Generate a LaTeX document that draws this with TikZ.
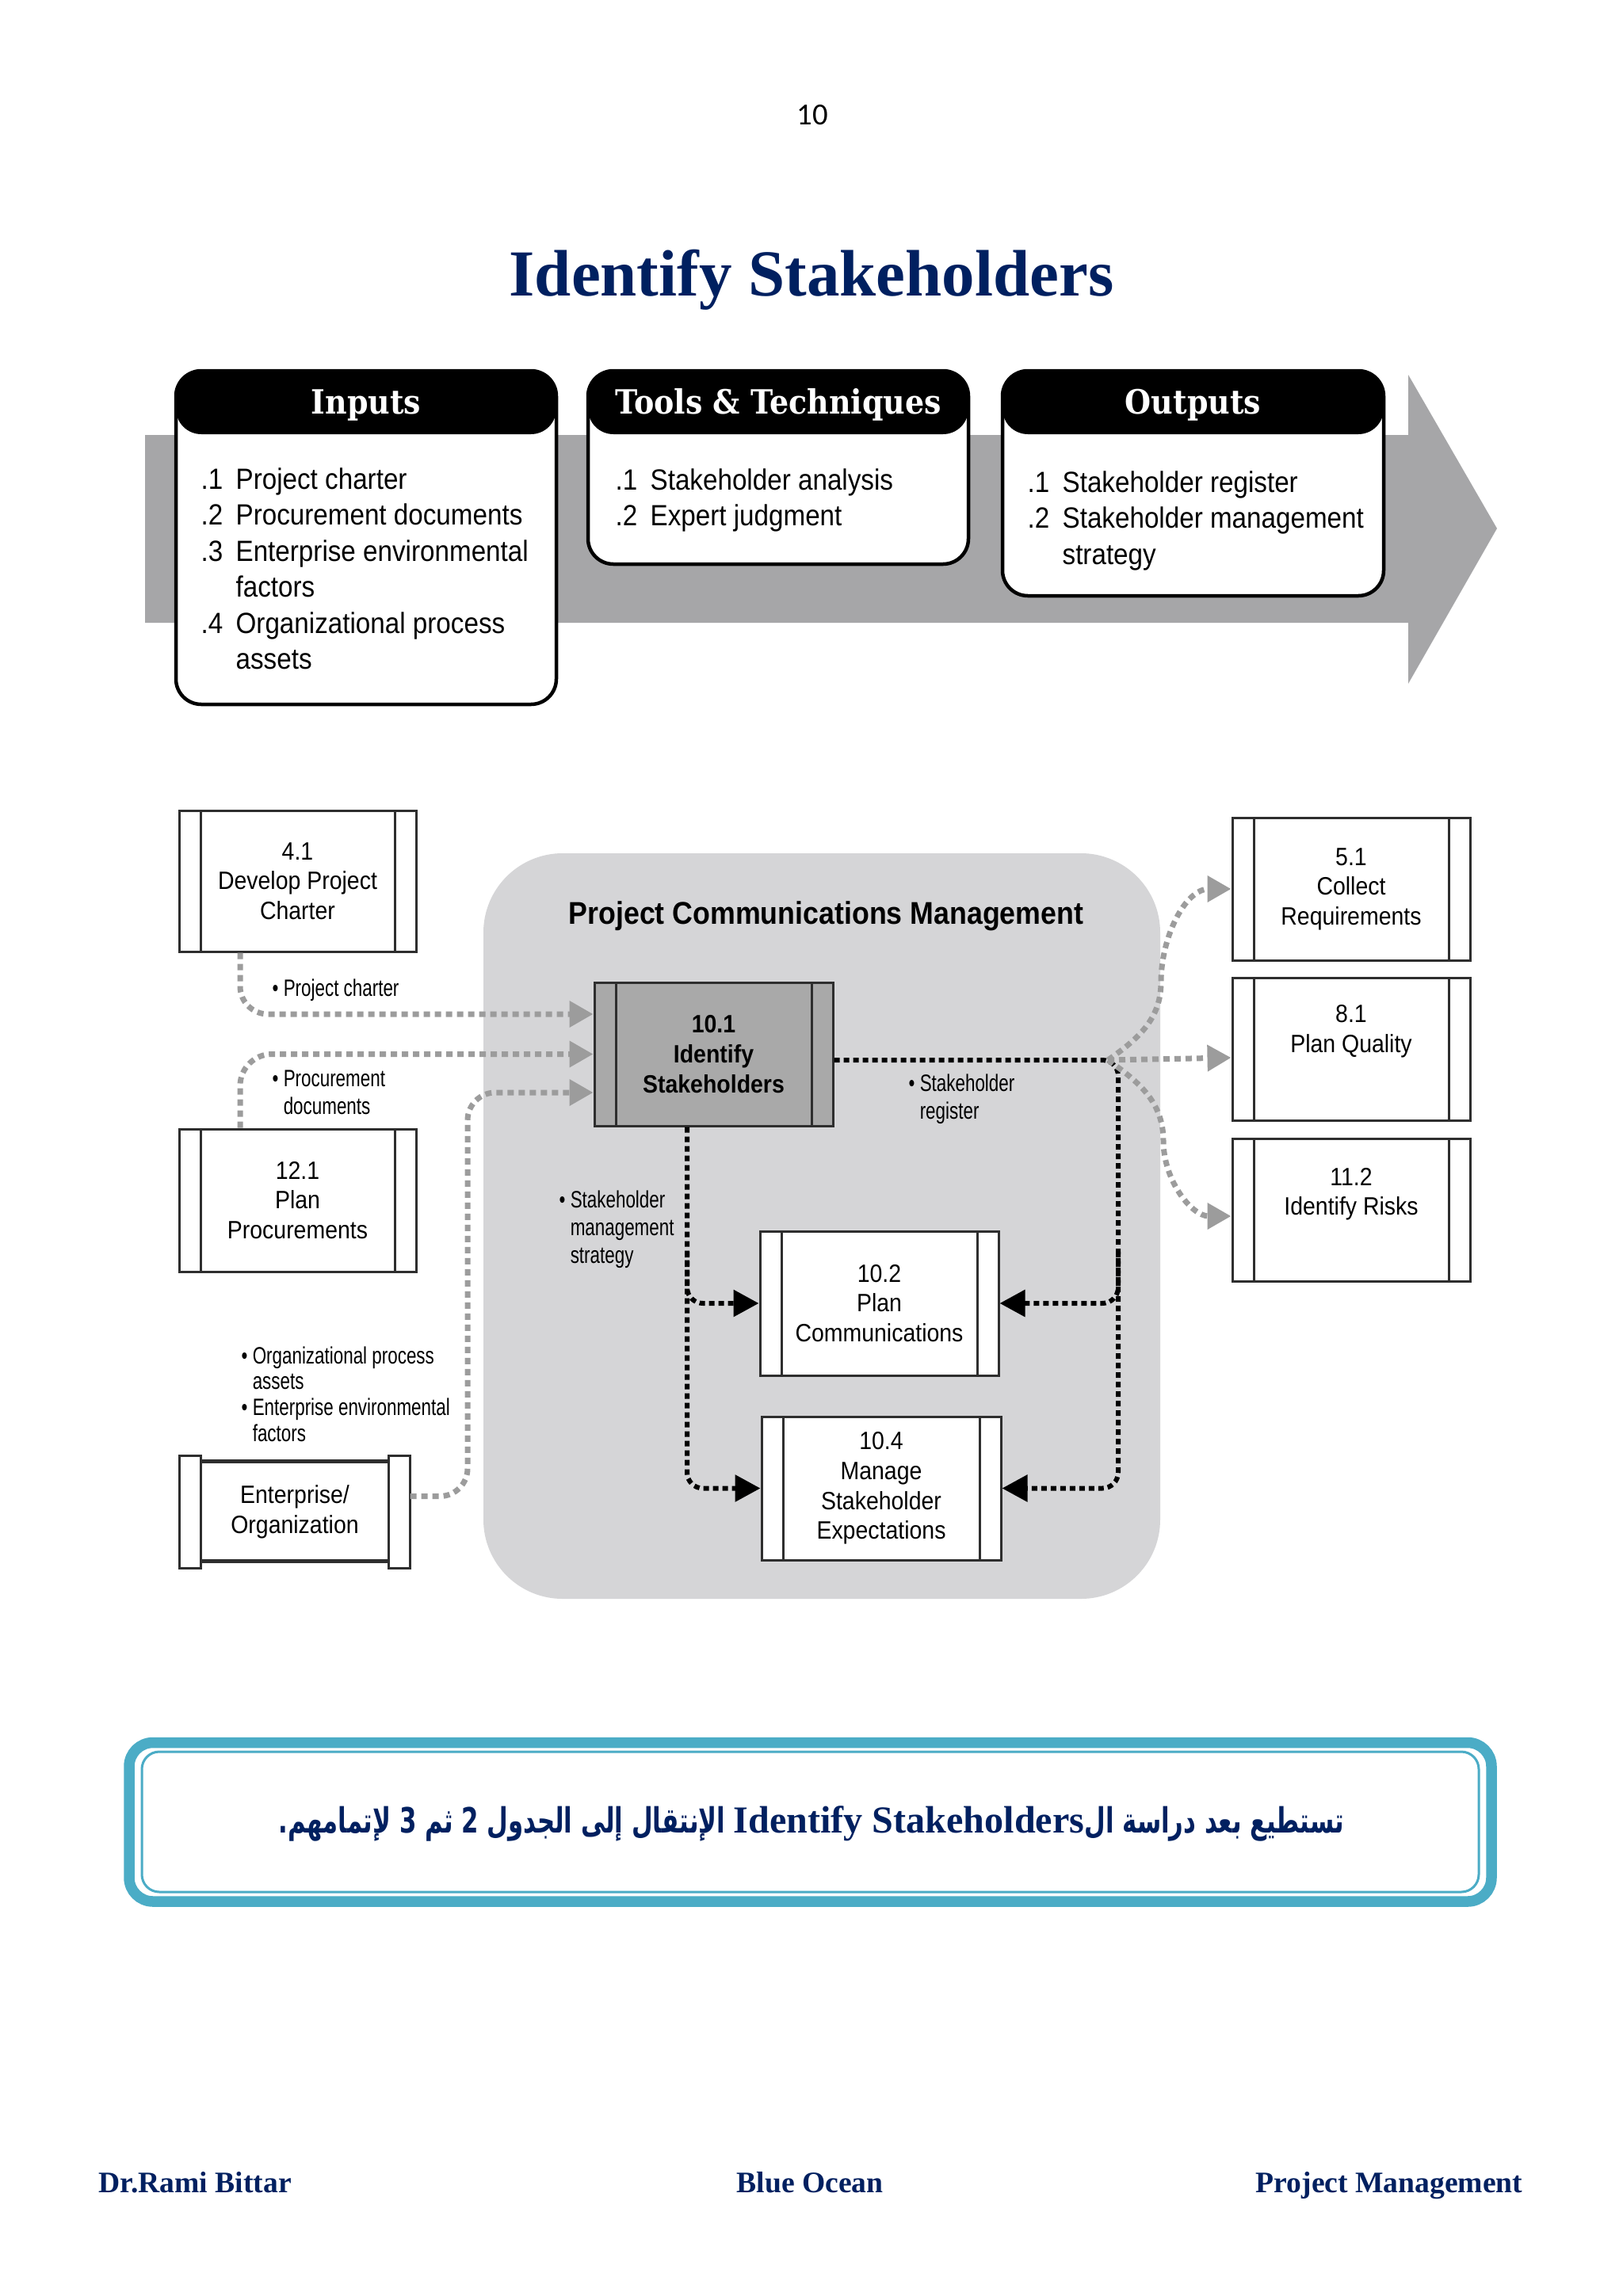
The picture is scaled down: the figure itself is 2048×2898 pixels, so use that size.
\documentclass[tikz,border=0pt]{standalone}
\usepackage{fontspec}
\usetikzlibrary{arrows.meta,calc}
\setmainfont{Liberation Serif}
\newfontfamily\condf[FakeStretch=0.9]{Liberation Sans}
\newfontfamily\labf[FakeStretch=0.75]{Liberation Sans}
\newfontfamily\slabf[FakeStretch=0.9]{DejaVu Serif}
\newfontfamily\arabicfont[Script=Arabic,FakeStretch=0.7]{DejaVu Sans}
\newfontfamily\latinserif{Liberation Serif}
\newfontfamily\pagef{Carlito}
\TeXXeTstate=1
\definecolor{navy}{HTML}{002060}
\definecolor{bargray}{HTML}{A6A6A8}
\definecolor{regiongray}{HTML}{D5D5D7}
\definecolor{flowgray}{HTML}{9C9C9C}
\definecolor{procgray}{HTML}{A9A9A9}
\definecolor{boxline}{HTML}{2E2E2E}
\definecolor{teal1}{HTML}{4BACC6}
\begin{document}
\begin{tikzpicture}[x=0.1mm,y=-0.1mm,
  hdrbox/.style={draw=black, line width=0.45mm, fill=white, rounded corners=3.2mm, inner sep=0pt,
     path picture={\fill[black] (path picture bounding box.north west) rectangle ([yshift=-8mm]path picture bounding box.north east);}},
  hdrtext/.style={text=white, font=\slabf\bfseries\fontsize{12}{14}\selectfont, anchor=base, inner sep=0pt},
  listtext/.style={anchor=base west, inner sep=0pt, font=\condf\fontsize{10.5}{12.95}\selectfont},
  proc/.style={draw=boxline, line width=0.3mm, fill=white, inner sep=0pt, align=center,
     font=\condf\fontsize{9}{10.7}\selectfont,
     path picture={\draw[boxline, line width=0.3mm] ([xshift=2.7mm]path picture bounding box.north west) -- ([xshift=2.7mm]path picture bounding box.south west);
                   \draw[boxline, line width=0.3mm] ([xshift=-2.7mm]path picture bounding box.north east) -- ([xshift=-2.7mm]path picture bounding box.south east);}},
  lab/.style={anchor=base west, inner sep=0pt, font=\labf\fontsize{8.5}{10}\selectfont},
  grayflow/.style={draw=flowgray, line width=0.7mm, dash pattern=on 0.8mm off 0.6mm, -{Triangle[length=3mm,width=3.2mm,fill=flowgray]}},
  blackflow/.style={draw=black, line width=0.6mm, dash pattern=on 0.7mm off 0.5mm, -{Triangle[length=3.2mm,width=3.3mm]}},
]
\useasboundingbox (0,0) rectangle (2048,2898);
\fill[white] (0,0) rectangle (2048,2898);

% page number and title
\node[anchor=base, inner sep=0pt, font=\pagef\fontsize{11}{13}\selectfont] (pgnum) at (1025,157) {10};
\node[anchor=base, inner sep=0pt, text=navy, font=\bfseries\fontsize{23.6}{28}\selectfont] (title) at (1024,373) {Identify Stakeholders};

% process flow bar
\fill[bargray] (183,549) -- (1777,549) -- (1777,473) -- (1889,667) -- (1777,863) -- (1777,786) -- (183,786) -- cycle;

\node[hdrbox, minimum width=48mm, minimum height=42.1mm] (inputs) at (462,678.5) {};
\node[hdrbox, minimum width=48mm, minimum height=24.4mm] (tools) at (982,590) {};
\node[hdrbox, minimum width=48.1mm, minimum height=28.4mm] (outputs) at (1505.5,610) {};
\node[hdrtext] (inputsT) at ([yshift=-5.7mm]inputs.north) {Inputs};
\node[hdrtext] (toolsT) at ([yshift=-5.7mm]tools.north) {Tools \& Techniques};
\node[hdrtext] (outputsT) at ([yshift=-5.7mm]outputs.north) {Outputs};

\node[listtext] (inputsL) at (253,617) {\begin{tabular}[t]{@{}p{12.5pt}@{}l@{}}.1&Project charter\\.2&Procurement documents\\.3&Enterprise environmental\\&factors\\.4&Organizational process\\&assets\end{tabular}};
\node[listtext] (toolsL) at (776,618) {\begin{tabular}[t]{@{}p{12.5pt}@{}l@{}}.1&Stakeholder analysis\\.2&Expert judgment\end{tabular}};
\node[listtext] (outputsL) at (1296,621) {\begin{tabular}[t]{@{}p{12.5pt}@{}l@{}}.1&Stakeholder register\\.2&Stakeholder management\\&strategy\end{tabular}};

% knowledge area region
\fill[regiongray, rounded corners=10mm] (610,1077) rectangle (1464,2018);
\node[anchor=base west, inner sep=0pt, font=\condf\bfseries\fontsize{11.3}{13}\selectfont] (pcm) at (717,1166) {Project Communications Management};

% process boxes
\node[proc, minimum width=29.9mm, minimum height=17.8mm] (n41) at (375.5,1112) {4.1\\Develop Project\\Charter};
\node[proc, minimum width=29.9mm, minimum height=18mm] (n121) at (375.5,1515) {12.1\\Plan\\Procurements};
\node[proc, fill=procgray, minimum width=30.1mm, minimum height=18.1mm, font=\condf\bfseries\fontsize{9}{10.7}\selectfont] (n101) at (900.5,1330.5) {10.1\\Identify\\Stakeholders};
\node[proc, minimum width=30.1mm, minimum height=18.2mm] (n102) at (1109.5,1645) {10.2\\Plan\\Communications};
\node[proc, minimum width=30.2mm, minimum height=18.1mm] (n104) at (1112,1878.5) {10.4\\Manage\\Stakeholder\\Expectations};
\node[proc, minimum width=30mm, minimum height=18mm] (n51) at (1705,1122) {5.1\\Collect\\Requirements};
\node[proc, minimum width=30mm, minimum height=18mm] (n81) at (1705,1324) {8.1\\Plan Quality\\[0.8ex]};
\node[proc, minimum width=30mm, minimum height=18mm] (n112) at (1705,1527) {11.2\\Identify Risks\\[0.5ex]};

% enterprise / organization
\node[inner sep=0pt, minimum width=29mm, minimum height=14.1mm, align=center, font=\condf\fontsize{9}{10.7}\selectfont] (ent) at (372,1908.5) {Enterprise/\\Organization};
\draw[boxline, line width=0.3mm] (ent.north west) rectangle ([xshift=2.7mm]ent.south west);
\draw[boxline, line width=0.3mm] (ent.north east) rectangle ([xshift=-2.7mm]ent.south east);
\draw[boxline, line width=0.5mm] ([xshift=2.7mm,yshift=-0.7mm]ent.north west) -- ([xshift=-2.7mm,yshift=-0.7mm]ent.north east);
\draw[boxline, line width=0.5mm] ([xshift=2.7mm,yshift=0.9mm]ent.south west) -- ([xshift=-2.7mm,yshift=0.9mm]ent.south east);

% labels
\node[lab] (lpc) at (343,1257) {\textbullet\ Project charter};
\node[lab] (lpd) at (343,1371) {\begin{tabular}[t]{@{}l@{}}\textbullet\ Procurement\\\phantom{\textbullet\ }documents\end{tabular}};
\node[lab, font=\labf\fontsize{8.5}{9.3}\selectfont] (lopa) at (304,1721) {\begin{tabular}[t]{@{}l@{}}\textbullet\ Organizational process\\\phantom{\textbullet\ }assets\\\textbullet\ Enterprise environmental\\\phantom{\textbullet\ }factors\end{tabular}};
\node[lab] (lsms) at (705,1524) {\begin{tabular}[t]{@{}l@{}}\textbullet\ Stakeholder\\\phantom{\textbullet\ }management\\\phantom{\textbullet\ }strategy\end{tabular}};
\node[lab] (lsr) at (1146,1377) {\begin{tabular}[t]{@{}l@{}}\textbullet\ Stakeholder\\\phantom{\textbullet\ }register\end{tabular}};

% helper coordinates
\coordinate (lv) at (590,1600);
\coordinate (lbv) at (867,1580);
\coordinate (rv) at (1411,1600);
\coordinate (rbv) at (1411,1580);
\coordinate (jx) at (1398,1338);
\coordinate (m51) at (1465,1240);
\coordinate (m112) at (1468,1440);

% inbound gray flows
\draw[grayflow, rounded corners=3.5mm] ([xshift=-7.25mm]n41.south) |- ([yshift=5.05mm]n101.west);
\draw[grayflow, rounded corners=4mm] ([xshift=-7.25mm]n121.north) |- (n101.west);
\draw[grayflow, rounded corners=3.5mm] ([yshift=2mm]ent.east) -| (lv) |- ([yshift=-4.85mm]n101.west);

% black flows
\draw[blackflow, rounded corners=2mm] ([xshift=-3.35mm]n101.south) |- (n104.west);
\draw[blackflow, rounded corners=2mm] (lbv) |- (n102.west);
\draw[blackflow, rounded corners=2mm] ([yshift=-0.75mm]n101.east) -| (rv) |- (n104.east);
\draw[blackflow, rounded corners=2mm] (rbv) |- (n102.east);

% outbound gray flows
\draw[grayflow] (jx) -- ([yshift=-1.1mm]n81.west);
\draw[grayflow] (jx) to[out=35,in=-90] (m51) to[out=90,in=180] (n51.west);
\draw[grayflow] (jx) to[out=-35,in=90] (m112) to[out=-90,in=180] ([yshift=-0.8mm]n112.west);

% note box
\draw[teal1, line width=1.35mm, rounded corners=3mm] (163,2199.5) rectangle (1882,2400);
\draw[teal1, line width=0.3mm, rounded corners=2.2mm] (179,2211) rectangle (1866,2388);
\node[inner sep=0pt, text=navy, font=\arabicfont\bfseries\fontsize{12.5}{16}\selectfont] (arab) at (1024,2302) {\beginR تستطيع بعد دراسة ال\beginL{\latinserif\bfseries\fontsize{13.7}{16}\selectfont Identify Stakeholders}\endL{} الإنتقال إلى الجدول 2 ثم 3 لإتمامهم.\endR};

% footer
\node[anchor=base west, inner sep=0pt, text=navy, font=\bfseries\fontsize{10.7}{13}\selectfont] (fl) at (124,2767) {Dr.Rami Bittar};
\node[anchor=base, inner sep=0pt, text=navy, font=\bfseries\fontsize{10.7}{13}\selectfont] (fc) at (1022,2767) {Blue Ocean};
\node[anchor=base east, inner sep=0pt, text=navy, font=\bfseries\fontsize{10.7}{13}\selectfont] (fr) at (1922,2767) {Project Management};
\end{tikzpicture}
\end{document}
